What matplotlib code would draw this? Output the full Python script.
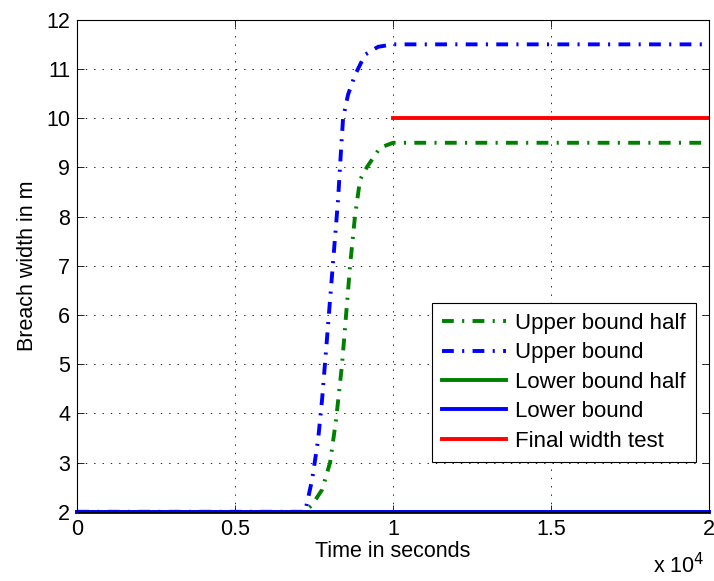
import numpy as np
import matplotlib.pyplot as plt

plt.rcParams['font.family'] = ['Liberation Sans', 'DejaVu Sans']
plt.rcParams['lines.scale_dashes'] = False

# time in seconds, breach width in m
t_upper = [0, 7215, 7437, 7627, 7753, 7880, 8006, 8133, 8259, 8354, 8418,
           8576, 8797, 9114, 9525, 10000, 20000]
w_upper = [2, 2, 2.65, 3.46, 4.28, 5.29, 6.31, 7.33, 8.34, 9.36, 10.0,
           10.48, 10.88, 11.29, 11.45, 11.5, 11.5]

t_upper_half = [0, 7200, 7437, 7753, 8006, 8196, 8386, 8513, 8639, 8797,
                8956, 9177, 9589, 10000, 20000]
w_upper_half = [2, 2, 2.14, 2.45, 3.0, 3.87, 5.0, 6.0, 7.0, 8.02,
                8.75, 9.01, 9.4, 9.5, 9.5]

t_lower = [0, 20000]
w_lower_half = [2, 2]
w_lower = [2, 2]

t_final = [10000, 20000]
w_final = [10, 10]

xticks = [0, 0.5, 1, 1.5, 2]
xticklabels = ['0', '0.5', '1', '1.5', '2']
yticks = list(range(2, 13))

scale = 1e4
dashdot = (0, (8.5, 6, 1.5, 6))
fs = 15.5

fig = plt.figure(figsize=(7.14, 5.81), dpi=100)
ax = fig.add_axes([0.108, 0.119, 0.885, 0.847])

lw = 2.8
ax.plot(np.array(t_upper_half) / scale, w_upper_half, color='#008000',
        linestyle=dashdot, lw=lw, label='Upper bound half')
ax.plot(np.array(t_upper) / scale, w_upper, color='#0000ff',
        linestyle=dashdot, lw=lw, label='Upper bound')
ax.plot(np.array(t_lower) / scale, w_lower_half, color='#008000',
        lw=lw, label='Lower bound half', clip_on=False)
ax.plot(np.array(t_lower) / scale, w_lower, color='#0000ff',
        lw=lw, label='Lower bound', clip_on=False)
ax.plot(np.array(t_final) / scale, w_final, color='#ff0000',
        lw=lw, label='Final width test')

ax.set_xlim(0, 2)
ax.set_ylim(2, 12)
ax.set_xticks(xticks)
ax.set_xticklabels(xticklabels)
ax.set_yticks(yticks)
ax.tick_params(direction='in', top=True, right=True, labelsize=fs,
               length=5, width=0.6, pad=5)
ax.grid(True, color='black', linestyle=(0, (1, 5)), lw=0.6)
for sp in ax.spines.values():
    sp.set_linewidth(0.8)

ax.set_xlabel('Time in seconds', fontsize=fs, labelpad=1)
ax.set_ylabel('Breach width in m', fontsize=fs, labelpad=6)
fig.text(0.987, 0.004, 'x 10$^4$', ha='right', va='bottom', fontsize=fs)

leg = ax.legend(loc='lower right', bbox_to_anchor=(0.979, 0.102),
                borderaxespad=0, fontsize=16, handlelength=2.9,
                fancybox=False, framealpha=1, edgecolor='black',
                labelspacing=0.38, handletextpad=0.4, borderpad=0.45)
leg.get_frame().set_linewidth(0.8)

fig.savefig('out.png', dpi=100)
